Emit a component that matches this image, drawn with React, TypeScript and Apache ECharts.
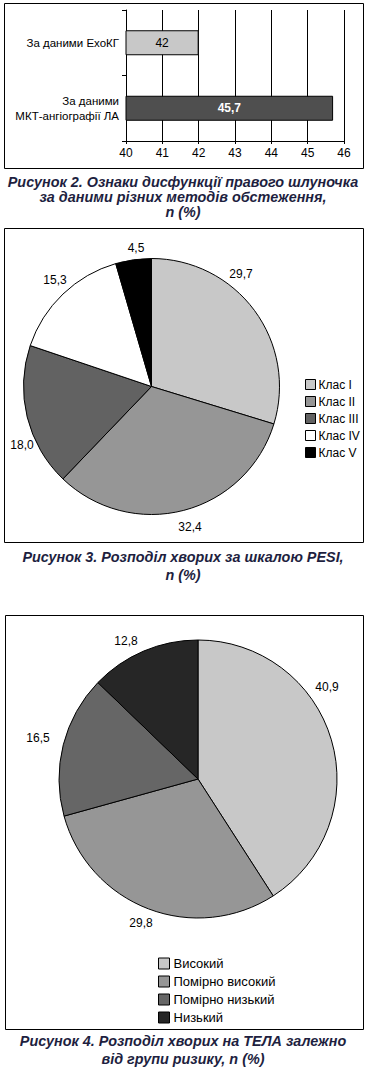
import React, { useEffect, useRef } from "react";
import * as echarts from "echarts";

const barCategories = ["За даними ЕхоКГ", "За даними\nМКТ-ангіографії ЛА"];
const barValues = [42, 45.7];
const barColors = ["#c8c8c8", "#4f4f4f"];
const barLabelColors = ["#000000", "#ffffff"];
const barLabelWeights = ["normal", "bold"];
const barAxisMin = 40;
const barAxisMax = 46;

const pesiNames = ["Клас I", "Клас II", "Клас III", "Клас IV", "Клас V"];
const pesiValues = [29.7, 32.4, 18.0, 15.3, 4.5];
const pesiColors = ["#c8c8c8", "#969696", "#626262", "#ffffff", "#000000"];

const riskNames = ["Високий", "Помірно високий", "Помірно низький", "Низький"];
const riskValues = [40.9, 29.8, 16.5, 12.8];
const riskColors = ["#c8c8c8", "#969696", "#666666", "#262626"];

const captions2 = ["Рисунок 2. Ознаки дисфункції правого шлуночка", "за даними різних методів обстеження,", "n (%)"];
const captions3 = ["Рисунок 3. Розподіл хворих за шкалою PESI,", "n (%)"];
const captions4 = ["Рисунок 4. Розподіл хворих на ТЕЛА залежно", "від групи ризику, n (%)"];

// layout (not data)
const pesiLabelPos = [[241, 274], [190, 527], [22, 445], [55, 280], [136, 248]];
const riskLabelPos = [[327, 687], [141, 923], [38, 738], [126, 641]];

const FONT = "'Liberation Sans', Arial, sans-serif";
const fmt = (v: number) => v.toFixed(1).replace(".", ",");

export default function App() {
  const ref = useRef<HTMLDivElement>(null);
  useEffect(() => {
    document.body.style.margin = "0";
    const chart = echarts.init(ref.current!, null, { renderer: "svg" });

    const captionText = (lines: string[], y0: number, step: number) =>
      lines.map((t, i) => ({
        type: "text",
        x: 183,
        y: y0 + i * step,
        style: {
          text: t,
          fontSize: 14.4,
          fontWeight: "bold",
          fontStyle: "italic",
          fontFamily: FONT,
          fill: "#1e1f3f",
          textAlign: "center",
          textVerticalAlign: "middle",
        },
      }));

    const frame = (x: number, y: number, w: number, h: number) => ({
      type: "rect",
      shape: { x: x + 0.5, y: y + 0.5, width: w, height: h },
      style: { fill: "none", stroke: "#000", lineWidth: 1 },
      z: 100,
    });

    const option: any = {
      animation: false,
      backgroundColor: "#ffffff",
      textStyle: { fontFamily: FONT },
      grid: [{ left: 126, top: 10, width: 218, height: 131 }],
      xAxis: [
        {
          type: "value",
          gridIndex: 0,
          min: barAxisMin,
          max: barAxisMax,
          interval: 1,
          axisLine: { show: true, lineStyle: { color: "#000", width: 1 } },
          axisTick: { show: true, length: 3, lineStyle: { color: "#000" } },
          splitLine: { show: true, lineStyle: { color: "#000", width: 1 } },
          axisLabel: { color: "#000", fontSize: 12, margin: 6, fontFamily: FONT },
        },
      ],
      yAxis: [
        {
          type: "category",
          gridIndex: 0,
          inverse: true,
          data: barCategories,
          axisLine: { show: true, lineStyle: { color: "#000", width: 1 } },
          axisTick: { show: true, length: 4, lineStyle: { color: "#000" } },
          axisLabel: { color: "#000", fontSize: 11.5, margin: 7, lineHeight: 15, fontFamily: FONT },
        },
      ],
      legend: [
        {
          orient: "vertical",
          left: 300,
          top: 373,
          itemWidth: 10,
          itemHeight: 10,
          itemGap: 4,
          icon: "rect",
          data: pesiNames,
          itemStyle: { borderColor: "#000", borderWidth: 1 },
          textStyle: { color: "#000", fontSize: 12, padding: [0, 0, 0, -2], lineHeight: 13, fontFamily: FONT },
        },
        {
          orient: "vertical",
          left: 153,
          top: 951,
          itemWidth: 11,
          itemHeight: 11,
          itemGap: 3,
          icon: "rect",
          data: riskNames,
          itemStyle: { borderColor: "#000", borderWidth: 1 },
          textStyle: { color: "#000", fontSize: 13, padding: [0, 0, 0, -1], lineHeight: 15, fontFamily: FONT },
        },
      ],
      series: [
        {
          type: "bar",
          xAxisIndex: 0,
          yAxisIndex: 0,
          barWidth: 25,
          data: barValues.map((v, i) => ({
            value: v,
            itemStyle: { color: barColors[i], borderColor: "#000", borderWidth: 1 },
            label: { color: barLabelColors[i], fontWeight: barLabelWeights[i] },
          })),
          label: {
            show: true,
            position: "inside",
            fontSize: 12,
            fontFamily: FONT,
            formatter: (p: any) => String(p.value).replace(".", ","),
          },
        },
        {
          type: "pie",
          name: "PESI",
          center: [151.5, 386.5],
          radius: 128,
          startAngle: 90,
          clockwise: true,
          avoidLabelOverlap: false,
          itemStyle: { borderColor: "#000", borderWidth: 1 },
          label: {
            show: true,
            position: "outside",
            color: "#000",
            fontSize: 12,
            fontFamily: FONT,
            formatter: (p: any) => fmt(p.value),
          },
          labelLine: { show: false },
          labelLayout: (p: any) => ({
            x: pesiLabelPos[p.dataIndex][0],
            y: pesiLabelPos[p.dataIndex][1],
            align: "center",
            verticalAlign: "middle",
          }),
          emphasis: { disabled: true },
          data: pesiNames.map((n, i) => ({ name: n, value: pesiValues[i], itemStyle: { color: pesiColors[i] } })),
        },
        {
          type: "pie",
          name: "Risk",
          center: [198, 779],
          radius: 139,
          startAngle: 90,
          clockwise: true,
          avoidLabelOverlap: false,
          itemStyle: { borderColor: "#000", borderWidth: 1 },
          label: {
            show: true,
            position: "outside",
            color: "#000",
            fontSize: 12,
            fontFamily: FONT,
            formatter: (p: any) => fmt(p.value),
          },
          labelLine: { show: false },
          labelLayout: (p: any) => ({
            x: riskLabelPos[p.dataIndex][0],
            y: riskLabelPos[p.dataIndex][1],
            align: "center",
            verticalAlign: "middle",
          }),
          emphasis: { disabled: true },
          data: riskNames.map((n, i) => ({ name: n, value: riskValues[i], itemStyle: { color: riskColors[i] } })),
        },
      ],
      graphic: [
        frame(4, 3, 359, 165),
        frame(4, 228, 359, 314),
        frame(5, 615, 358, 414),
        ...captionText(captions2, 182, 15),
        ...captionText(captions3, 557, 18),
        ...captionText(captions4, 1041, 18),
      ],
    };
    chart.setOption(option);
    return () => chart.dispose();
  }, []);
  return <div ref={ref} style={{ width: 370, height: 1073 }} />;
}
